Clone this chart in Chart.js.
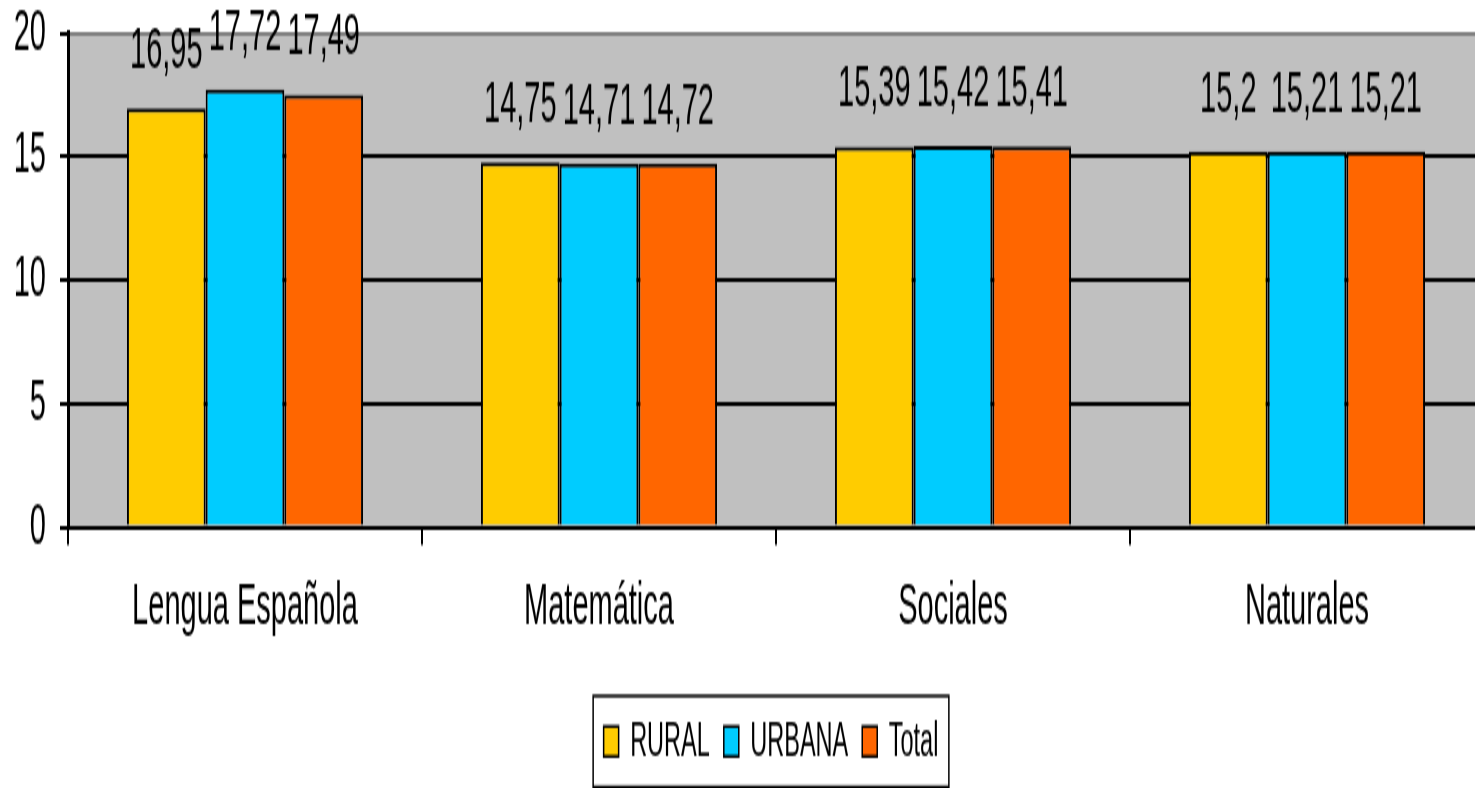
<!DOCTYPE html>
<html>
<head>
<meta charset="utf-8">
<script src="https://cdn.jsdelivr.net/npm/chart.js@4"></script>
<style>
html, body { margin: 0; padding: 0; background: #fff; overflow: hidden; width: 1475px; height: 788px; }
/* the original picture is stretched vertically, so draw at half height and stretch */
#wrap { width: 1490px; height: 394px; transform: scaleY(2); transform-origin: 0 0; }
</style>
</head>
<body>
<div id="wrap"><canvas id="chart" width="1490" height="394"></canvas></div>
<script>
const categories = ['Lengua Española', 'Matemática', 'Sociales', 'Naturales'];
const rural = [16.95, 14.75, 15.39, 15.2];
const urbana = [17.72, 14.71, 15.42, 15.21];
const total = [17.49, 14.72, 15.41, 15.21];
const seriesNames = ['RURAL', 'URBANA', 'Total'];
const seriesColors = ['#FFCC00', '#00CCFF', '#FF6600'];
const yMax = 20;
const yStep = 5;

const FONT = "'Liberation Sans', Arial, sans-serif";

// grey plot area
const plotBackground = {
    id: 'plotBackground',
    beforeDraw(chart) {
        const a = chart.chartArea;
        const ctx = chart.ctx;
        ctx.save();
        ctx.fillStyle = '#C0C0C0';
        ctx.fillRect(a.left, a.top, a.right - a.left, a.bottom - a.top);
        ctx.restore();
    }
};

// value above each bar, decimal comma
const valueLabels = {
    id: 'valueLabels',
    afterDatasetsDraw(chart) {
        const ctx = chart.ctx;
        ctx.save();
        ctx.font = '29px ' + FONT;
        ctx.fillStyle = '#000';
        ctx.textAlign = 'center';
        ctx.textBaseline = 'alphabetic';
        chart.data.datasets.forEach((ds, i) => {
            chart.getDatasetMeta(i).data.forEach((bar, j) => {
                const txt = String(ds.data[j]).replace('.', ',');
                ctx.fillText(txt, bar.x, bar.y - 20);
            });
        });
        ctx.restore();
    }
};

// boxed legend under the axis
const boxLegend = {
    id: 'boxLegend',
    afterDraw(chart) {
        const ctx = chart.ctx;
        const sw = 15, gap = 11.5, pad = 14, side = 10.5;
        ctx.save();
        ctx.font = '23.5px ' + FONT;
        const items = chart.data.datasets.map(ds => ({
            label: ds.label, color: ds.backgroundColor, w: ctx.measureText(ds.label).width
        }));
        let inner = 0;
        items.forEach((it, k) => { inner += sw + gap + it.w + (k ? pad : 0); });
        const a = chart.chartArea;
        const boxW = inner + side * 2;
        const boxX = (a.left + a.right) / 2 - 5 - boxW / 2;
        const boxY = 348, boxH = 45.5;
        ctx.lineWidth = 1.5;
        ctx.strokeStyle = '#000';
        ctx.strokeRect(boxX, boxY, boxW, boxH);
        const cy = boxY + boxH / 2;
        let x = boxX + side;
        ctx.textBaseline = 'middle';
        ctx.textAlign = 'left';
        items.forEach(it => {
            ctx.fillStyle = it.color;
            ctx.fillRect(x, cy - sw / 2, sw, sw);
            ctx.strokeRect(x, cy - sw / 2, sw, sw);
            ctx.fillStyle = '#000';
            ctx.fillText(it.label, x + sw + gap, cy + 1);
            x += sw + gap + it.w + pad;
        });
        ctx.restore();
    }
};

const ctx = document.getElementById('chart').getContext('2d');
const chart = new Chart(ctx, {
    type: 'bar',
    data: {
        labels: categories,
        datasets: [rural, urbana, total].map((d, i) => ({
            label: seriesNames[i],
            data: d,
            backgroundColor: seriesColors[i],
            borderColor: '#000',
            borderWidth: 2,
            categoryPercentage: 0.667,
            barPercentage: 1
        }))
    },
    options: {
        responsive: false,
        animation: false,
        devicePixelRatio: 1,
        layout: { padding: { top: 16.5, right: 6, left: 0, bottom: 70.5 } },
        plugins: {
            legend: { display: false },
            tooltip: { enabled: false }
        },
        scales: {
            x: {
                offset: true,
                grid: {
                    offset: true,
                    drawOnChartArea: false,
                    drawTicks: true,
                    tickLength: 9,
                    color: '#000',
                    lineWidth: 2
                },
                border: { color: '#000', width: 2 },
                ticks: { color: '#000', padding: 14, font: { family: FONT, size: 29 } },
                afterFit(scale) {
                    scale.height = 60;
                    scale.paddingLeft = 0;
                    scale.paddingRight = 0;
                }
            },
            y: {
                min: 0,
                max: yMax,
                grid: {
                    color: c => (c.tick && c.tick.value === yMax ? '#808080' : '#000'),
                    lineWidth: 2,
                    tickLength: 8,
                    tickColor: '#000'
                },
                border: { color: '#000', width: 3 },
                ticks: {
                    stepSize: yStep,
                    color: '#000',
                    padding: 14,
                    font: { family: FONT, size: 29, lineHeight: 1 }
                },
                afterFit(scale) {
                    scale.width = 68;
                    scale.paddingTop = 0;
                    scale.paddingBottom = 0;
                }
            }
        }
    },
    plugins: [plotBackground, valueLabels, boxLegend]
});
</script>
</body>
</html>
